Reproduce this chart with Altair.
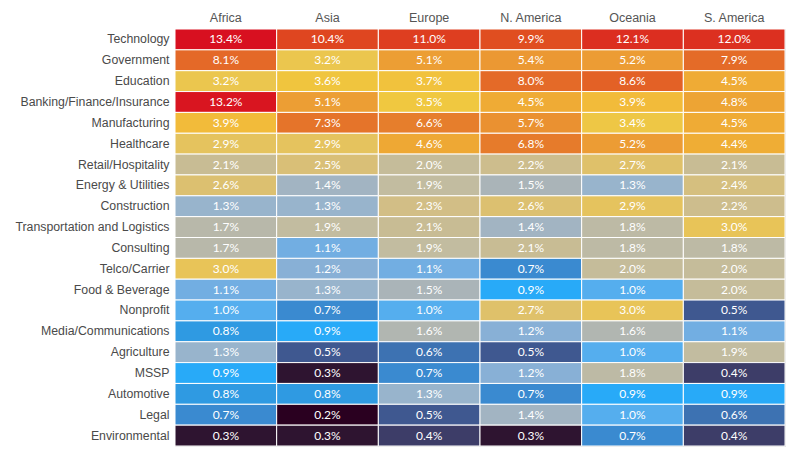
import altair as alt
import pandas as pd

regions = ["Africa", "Asia", "Europe", "N. America", "Oceania", "S. America"]
industries = [
    "Technology", "Government", "Education", "Banking/Finance/Insurance",
    "Manufacturing", "Healthcare", "Retail/Hospitality", "Energy & Utilities",
    "Construction", "Transportation and Logistics", "Consulting", "Telco/Carrier",
    "Food & Beverage", "Nonprofit", "Media/Communications", "Agriculture",
    "MSSP", "Automotive", "Legal", "Environmental",
]
africa = [13.4, 8.1, 3.2, 13.2, 3.9, 2.9, 2.1, 2.6, 1.3, 1.7, 1.7, 3.0, 1.1, 1.0, 0.8, 1.3, 0.9, 0.8, 0.7, 0.3]
asia = [10.4, 3.2, 3.6, 5.1, 7.3, 2.9, 2.5, 1.4, 1.3, 1.9, 1.1, 1.2, 1.3, 0.7, 0.9, 0.5, 0.3, 0.8, 0.2, 0.3]
europe = [11.0, 5.1, 3.7, 3.5, 6.6, 4.6, 2.0, 1.9, 2.3, 2.1, 1.9, 1.1, 1.5, 1.0, 1.6, 0.6, 0.7, 1.3, 0.5, 0.4]
n_america = [9.9, 5.4, 8.0, 4.5, 5.7, 6.8, 2.2, 1.5, 2.6, 1.4, 2.1, 0.7, 0.9, 2.7, 1.2, 0.5, 1.2, 0.7, 1.4, 0.3]
oceania = [12.1, 5.2, 8.6, 3.9, 3.4, 5.2, 2.7, 1.3, 2.9, 1.8, 1.8, 2.0, 1.0, 3.0, 1.6, 1.0, 1.8, 0.9, 1.0, 0.7]
s_america = [12.0, 7.9, 4.5, 4.8, 4.5, 4.4, 2.1, 2.4, 2.2, 3.0, 1.8, 2.0, 2.0, 0.5, 1.1, 1.9, 0.4, 0.9, 0.6, 0.4]

series = [africa, asia, europe, n_america, oceania, s_america]

color_domain = [0.2, 0.3, 0.4, 0.5, 0.6, 0.7, 0.8, 0.9, 1.0, 1.1, 1.2, 1.3, 1.4, 1.5, 1.7, 1.9,
                2.1, 2.3, 2.6, 3.0, 3.5, 4.0, 4.6, 5.2, 6.6, 8.0, 10.0, 12.0, 13.4]
color_range = ["#2a0020", "#2e1430", "#3d3d68", "#3f5890", "#3d72b2", "#3a8ad0", "#2f9ae2",
               "#28aaf8", "#55aeee", "#72aee2", "#88b0d6", "#98b4cc", "#a2b4c2", "#aab4b8",
               "#b8b8aa", "#c2bca0", "#c8bc94", "#d2be86", "#dcc070", "#e8c458", "#f0c840",
               "#f2b838", "#eea834", "#ec9c34", "#e67e2c", "#e46a28", "#e04c20", "#dc3020",
               "#d81020"]

rows = []
for r, vals in zip(regions, series):
    for ind, v in zip(industries, vals):
        rows.append({"region": r, "industry": ind, "value": v, "label": f"{v:.1f}%"})
df = pd.DataFrame(rows)

base = alt.Chart(df).encode(
    x=alt.X("region:N", sort=regions, title=None,
            scale=alt.Scale(paddingInner=0, paddingOuter=0),
            axis=alt.Axis(orient="top", domain=False, ticks=False, labelAngle=0,
                          labelFont="Liberation Sans", labelFontSize=12.5, labelColor="#555555",
                          labelPadding=5)),
    y=alt.Y("industry:N", sort=industries, title=None,
            scale=alt.Scale(paddingInner=0, paddingOuter=0),
            axis=alt.Axis(domain=False, ticks=False, labelFont="Liberation Sans", labelFontSize=12.3,
                          labelColor="#4a4a4a", labelPadding=6, labelLimit=300)),
)

rects = base.mark_rect(stroke="white", strokeWidth=1).encode(
    color=alt.Color("value:Q", legend=None,
                    scale=alt.Scale(domain=color_domain, range=color_range, interpolate="rgb"))
)
texts = base.mark_text(color="white", font="Lato", fontSize=12).encode(text="label:N")

chart = (rects + texts).properties(
    width=610, height=417,
    autosize=alt.AutoSizeParams(type="none"),
    padding={"left": 167, "top": 21, "right": 5, "bottom": 5},
).configure_view(stroke=None).configure(background="white")

chart.save("out.html", embed_options={"renderer": "svg", "actions": False})
